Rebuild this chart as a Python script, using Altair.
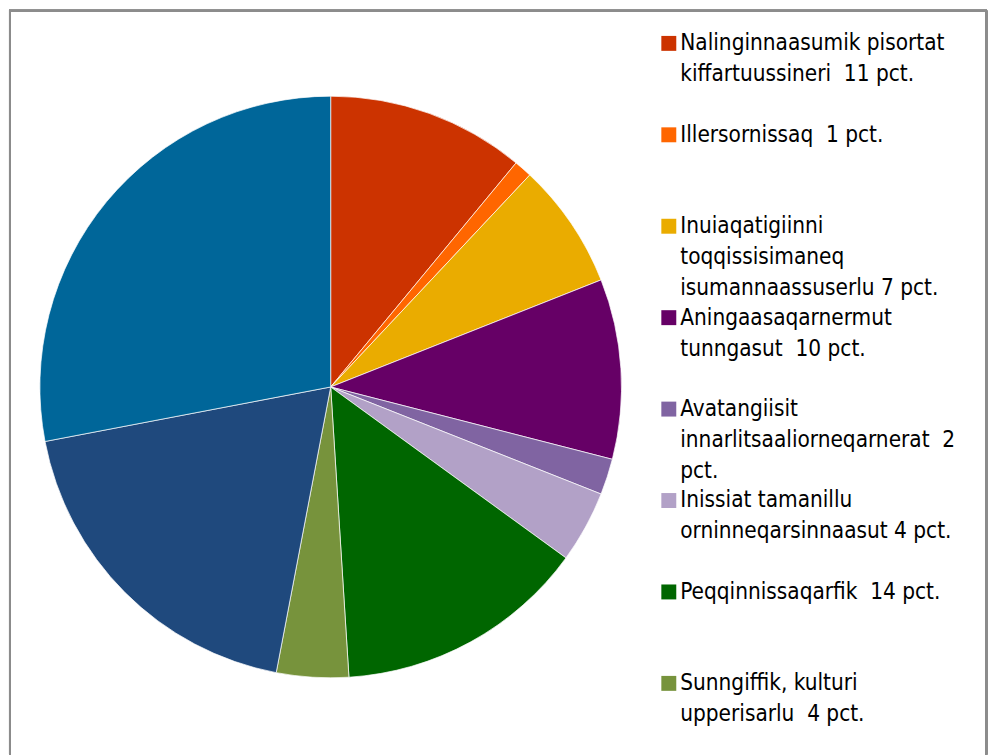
import altair as alt
import pandas as pd

labels = [
    "Nalinginnaasumik pisortat\nkiffartuussineri  11 pct.",
    "Illersornissaq  1 pct.",
    "Inuiaqatigiinni\ntoqqissisimaneq\nisumannaassuserlu 7 pct.",
    "Aningaasaqarnermut\ntunngasut  10 pct.",
    "Avatangiisit\ninnarlitsaaliorneqarnerat  2\npct.",
    "Inissiat tamanillu\norninneqarsinnaasut 4 pct.",
    "Peqqinnissaqarfik  14 pct.",
    "Sunngiffik, kulturi\nupperisarlu  4 pct.",
    "Ilinniartitaaneq  19 pct.",
    "Isumaginninneq  28 pct.",
]
values = [11, 1, 7, 10, 2, 4, 14, 4, 19, 28]
colors = ["#CC3300", "#FF6600", "#EAAC00", "#660066", "#8064A2",
          "#B2A1C7", "#006600", "#77933C", "#1F497D", "#006699"]

names = [l.split("\n")[0] for l in labels]
pie_df = pd.DataFrame({"cat": names, "value": values, "order": list(range(len(values)))})

leg_rows = []
for i, l in enumerate(labels):
    for j, line in enumerate(l.split("\n")):
        leg_rows.append({"item": i, "line": j,
                         "text": line.replace("  ", " \u00a0"), "cat": names[i]})
leg_df = pd.DataFrame(leg_rows)
key_df = pd.DataFrame({"item": list(range(len(labels))), "cat": names})

color_scale = alt.Scale(domain=names, range=colors)
FONT = "DejaVu Sans Condensed, sans-serif"

pie = alt.Chart(pie_df).mark_arc(
    outerRadius=292, stroke="#ffffff", strokeWidth=0.7
).encode(
    theta=alt.Theta("value:Q", stack=True),
    order=alt.Order("order:Q"),
    color=alt.Color("cat:N", scale=color_scale, legend=None),
    x=alt.value(324),
    y=alt.value(379),
)

slot0, slot = 34, 91.8
line_h = 31

keys = alt.Chart(key_df).transform_calculate(
    ypos=f"{slot0} + datum.item * {slot}"
).transform_filter("datum.ypos < 730").mark_square(size=225, opacity=1).encode(
    x=alt.value(663.5),
    y=alt.Y("ypos:Q", scale=None),
    color=alt.Color("cat:N", scale=color_scale, legend=None),
)

texts = alt.Chart(leg_df).transform_calculate(
    ypos=f"{slot0} + datum.item * {slot} + datum.line * {line_h}"
).transform_filter("datum.ypos < 730").mark_text(
    align="left", baseline="middle", font=FONT, fontSize=22.5, color="#000000"
).encode(
    x=alt.value(675),
    y=alt.Y("ypos:Q", scale=None),
    text="text:N",
)

border_color = "#8c8c8c"
left = alt.Chart(pie_df).mark_rule(color=border_color, strokeWidth=2).encode(
    x=alt.value(2), y=alt.value(1), y2=alt.value(748))
top = alt.Chart(pie_df).mark_rule(color=border_color, strokeWidth=2).encode(
    x=alt.value(1), x2=alt.value(983), y=alt.value(1.3))
right = alt.Chart(pie_df).mark_rule(color=border_color, strokeWidth=2).encode(
    x=alt.value(982.3), y=alt.value(1), y2=alt.value(748))

chart = alt.layer(pie, keys, texts, left, top, right).properties(
    width=984, height=748, padding=0
).configure_view(stroke=None)

chart.save("out.html", embed_options={"renderer": "svg", "actions": False})
